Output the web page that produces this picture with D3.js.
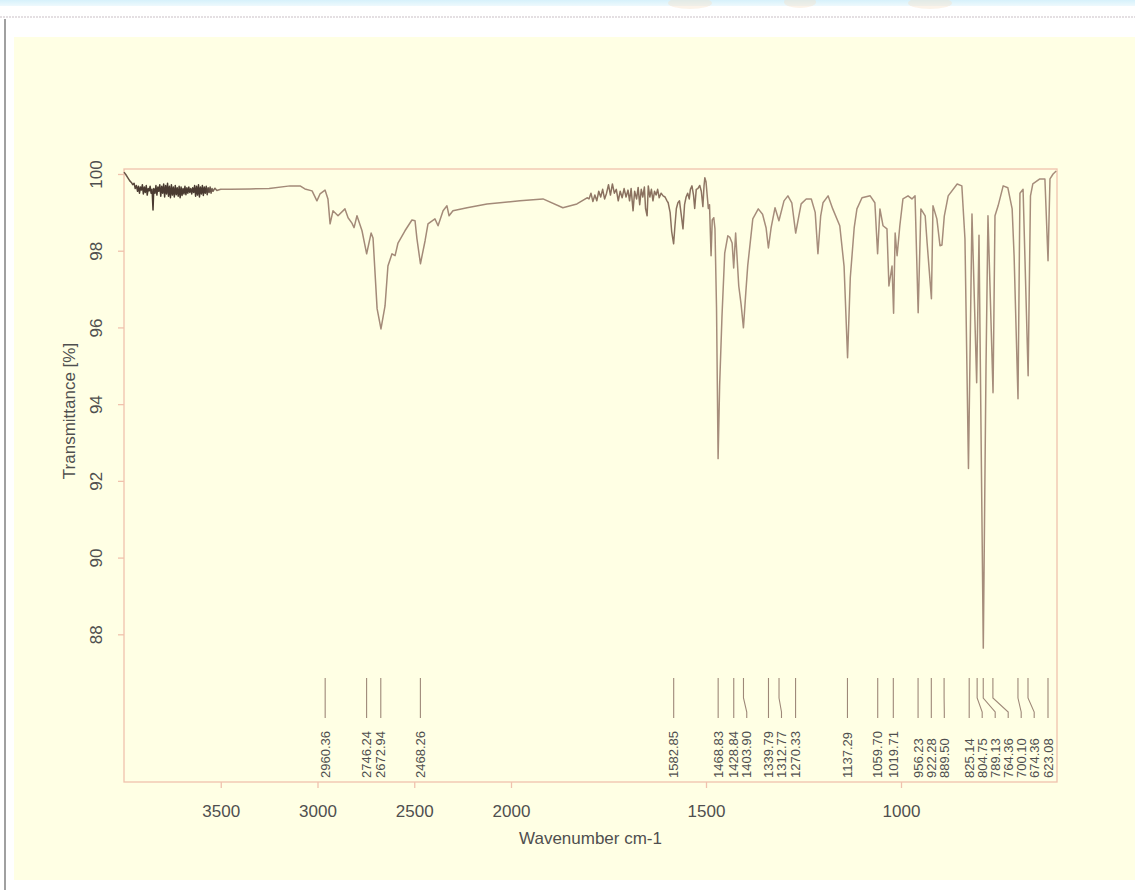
<!DOCTYPE html>
<html>
<head>
<meta charset="utf-8">
<script src="https://cdn.jsdelivr.net/npm/d3@7/dist/d3.min.js"></script>
<style>
  html, body { margin: 0; padding: 0; background: #ffffff; }
  svg { display: block; font-family: "Liberation Sans", Arial, sans-serif; }
</style>
</head>
<body>
<svg id="chart" width="1135" height="895"></svg>
<script>
// ---------------- DATA ----------------
const wavenumbers = [
  4000, 3990, 3980, 3970, 3962, 3955, 3948, 3942, 3936, 3930, 3925, 3920, 3915, 3910, 3905, 3900,
  3895, 3890, 3885, 3880, 3875, 3870, 3865, 3860, 3855, 3850, 3846, 3840, 3835, 3830, 3825, 3820,
  3815, 3810, 3805, 3800, 3795, 3790, 3785, 3780, 3775, 3770, 3765, 3760, 3755, 3750, 3745, 3740,
  3735, 3730, 3725, 3720, 3715, 3710, 3705, 3700, 3695, 3690, 3685, 3680, 3675, 3670, 3665, 3660,
  3655, 3650, 3645, 3640, 3635, 3630, 3625, 3620, 3615, 3610, 3605, 3600, 3595, 3590, 3585, 3580,
  3575, 3570, 3565, 3560, 3555, 3550, 3545, 3540, 3530, 3520, 3500, 3450, 3350, 3250,
  3142, 3090, 3065, 3028, 3003, 2987, 2961, 2946, 2935, 2920, 2894, 2858, 2842, 2822, 2811, 2796,
  2770, 2746, 2723, 2713, 2692, 2672, 2651, 2636, 2615, 2599, 2584, 2548, 2512, 2496, 2486, 2468,
  2444, 2429, 2393, 2377, 2351, 2331, 2320, 2300, 2227, 2124, 2057, 1977, 1918, 1867, 1831, 1805,
  1800, 1795, 1790, 1785, 1780, 1775, 1770, 1765, 1760, 1755, 1750, 1745, 1740, 1735, 1730, 1725,
  1720, 1715, 1710, 1705, 1700, 1696, 1692, 1687, 1683, 1678, 1674, 1670, 1666, 1662, 1658, 1655,
  1651, 1648, 1644, 1640, 1636, 1632, 1628, 1624, 1620, 1615, 1610, 1605, 1600, 1597, 1592, 1588,
  1583, 1580, 1576, 1572, 1568, 1563, 1559, 1555, 1551, 1547, 1543, 1540, 1536, 1532, 1529, 1525,
  1521, 1516, 1512, 1508, 1505, 1503, 1500, 1497, 1494, 1491, 1487, 1484, 1480, 1477, 1473, 1469,
  1465, 1459, 1452, 1444, 1439, 1433, 1429, 1424, 1416, 1410, 1404, 1398, 1393, 1380, 1366, 1355,
  1346, 1340, 1333, 1323, 1313, 1300, 1290, 1280, 1270, 1262, 1256, 1243, 1230, 1220, 1213, 1206,
  1200, 1187, 1175, 1157, 1146, 1137, 1130, 1120, 1113, 1100, 1079, 1067, 1060, 1054, 1046, 1036,
  1031, 1023, 1019, 1015, 1010, 1003, 995, 982, 972, 964, 956, 949, 938, 933, 922, 918,
  908, 900, 895, 889, 879, 856, 844, 836, 827, 818, 806, 800, 789, 782, 777, 764,
  759, 751, 738, 726, 715, 710, 700, 695, 687, 674, 668, 662, 644, 631, 623, 618,
  610, 602
];
const transmittance = [
  100.05, 99.98, 99.90, 99.82, 99.78, 99.72, 99.76, 99.62, 99.70, 99.55, 99.68, 99.50, 99.66, 99.58, 99.72, 99.48,
  99.66, 99.52, 99.70, 99.45, 99.62, 99.56, 99.68, 99.50, 99.60, 99.06, 99.62, 99.50, 99.70, 99.45, 99.66, 99.55,
  99.72, 99.42, 99.68, 99.50, 99.74, 99.40, 99.70, 99.48, 99.76, 99.42, 99.68, 99.38, 99.72, 99.45, 99.66, 99.40,
  99.70, 99.46, 99.64, 99.42, 99.68, 99.38, 99.66, 99.44, 99.62, 99.48, 99.68, 99.46, 99.64, 99.50, 99.66, 99.52,
  99.62, 99.48, 99.64, 99.52, 99.70, 99.42, 99.68, 99.45, 99.72, 99.40, 99.66, 99.48, 99.70, 99.44, 99.66, 99.50,
  99.68, 99.46, 99.64, 99.52, 99.66, 99.50, 99.62, 99.55, 99.63, 99.57, 99.60, 99.60, 99.61, 99.62,
  99.69, 99.69, 99.61, 99.56, 99.30, 99.48, 99.58, 99.35, 98.70, 99.04, 98.91, 99.09, 98.86, 98.72, 98.60, 98.91,
  98.52, 97.92, 98.46, 98.33, 96.49, 95.96, 96.56, 97.60, 97.92, 97.87, 98.20, 98.52, 98.80, 98.78, 98.31, 97.66,
  98.26, 98.70, 98.83, 98.65, 99.04, 99.17, 98.91, 99.04, 99.12, 99.22, 99.25, 99.30, 99.35, 99.12, 99.22, 99.38,
  99.35, 99.50, 99.28, 99.45, 99.30, 99.55, 99.40, 99.60, 99.35, 99.50, 99.72, 99.45, 99.74, 99.50, 99.60, 99.30,
  99.55, 99.38, 99.62, 99.40, 99.58, 99.30, 99.62, 99.04, 99.55, 99.35, 99.65, 99.20, 99.60, 99.40, 99.66, 99.10,
  98.91, 99.69, 99.40, 99.60, 99.30, 99.55, 99.45, 99.60, 99.38, 99.50, 99.43, 99.40, 99.30, 99.25, 99.00, 98.50,
  98.18, 98.60, 99.10, 99.25, 99.30, 98.90, 98.57, 99.20, 99.40, 99.50, 99.35, 99.60, 99.69, 99.45, 99.10, 99.60,
  99.62, 99.70, 99.55, 99.15, 99.70, 99.90, 99.80, 99.45, 99.10, 99.20, 97.87, 98.80, 98.86, 98.57, 96.50, 92.58,
  94.50, 96.30, 97.94, 98.39, 98.35, 98.20, 97.55, 98.46, 97.08, 96.60, 95.99, 96.90, 97.61, 98.83, 99.09, 98.95,
  98.60, 98.07, 98.60, 99.12, 98.78, 99.30, 99.43, 99.25, 98.46, 98.90, 99.22, 99.35, 99.35, 99.00, 97.92, 98.90,
  99.25, 99.43, 99.09, 98.65, 97.60, 95.21, 97.30, 98.60, 99.09, 99.38, 99.43, 99.25, 97.92, 99.09, 98.65, 98.57,
  97.08, 97.60, 96.37, 98.46, 97.87, 98.65, 99.35, 99.43, 99.35, 99.43, 96.38, 99.09, 98.91, 98.20, 96.75, 99.17,
  98.83, 98.13, 98.15, 98.90, 99.43, 99.74, 99.69, 98.31, 92.32, 98.96, 94.56, 98.40, 87.64, 95.00, 98.91, 94.30,
  98.91, 99.17, 99.69, 99.64, 99.09, 97.87, 94.14, 99.50, 99.60, 94.74, 99.43, 99.74, 99.87, 99.87, 97.74, 99.87,
  100.00, 100.08
];
const peakLabels = [
  2960.36, 2746.24, 2672.94, 2468.26, 1582.85, 1468.83, 1428.84, 1403.90, 1339.79, 1312.77,
  1270.33, 1137.29, 1059.70, 1019.71, 956.23, 922.28, 889.50, 825.14, 804.75, 789.13,
  764.36, 700.10, 674.36, 623.08
];
const xTicks = [3500, 3000, 2500, 2000, 1500, 1000];
const yTicks = [88, 90, 92, 94, 96, 98, 100];
const xTitle = "Wavenumber cm-1";
const yTitle = "Transmittance [%]";

// ---------------- LAYOUT ----------------
const svg = d3.select("#chart");
const W = 1135, H = 895;
const plot = { left: 124, top: 169, right: 1057, bottom: 782 };
const axisColor = "#f0c2ad";
const textColor = "#4f4f4f";

// page decoration
svg.append("rect").attr("x", 0).attr("y", 0).attr("width", W).attr("height", H).attr("fill", "#ffffff");
const defs = svg.append("defs");
const grad = defs.append("linearGradient").attr("id", "topg").attr("x1", 0).attr("x2", 0).attr("y1", 0).attr("y2", 1);
grad.append("stop").attr("offset", "0%").attr("stop-color", "#d6f1fb");
grad.append("stop").attr("offset", "100%").attr("stop-color", "#eef9fd");
svg.append("rect").attr("x", 0).attr("y", 0).attr("width", W).attr("height", 6).attr("fill", "url(#topg)");
[[690, 3, 22], [800, 2, 16], [930, 3, 22]].forEach(([cx, cy, r]) => {
  svg.append("ellipse").attr("cx", cx).attr("cy", cy).attr("rx", r).attr("ry", 6)
    .attr("fill", "#f6dcc0").attr("opacity", 0.35);
});
svg.append("line").attr("x1", 0).attr("x2", W).attr("y1", 17).attr("y2", 17)
  .attr("stroke", "#e4dfe2").attr("stroke-width", 2).attr("stroke-dasharray", "2,1");
svg.append("line").attr("x1", 5).attr("x2", 5).attr("y1", 19).attr("y2", 890)
  .attr("stroke", "#a0a0a0").attr("stroke-width", 2);
svg.append("rect").attr("x", 14).attr("y", 37).attr("width", W - 14).attr("height", 843)
  .attr("fill", "#ffffe4");

// scales (split axis: region above 2000 cm-1 compressed)
const x = d3.scaleLinear().domain([4000, 2000, 600]).range([plot.left, 511, plot.right]);
const y = d3.scaleLinear().domain([84.15, 100.13]).range([plot.bottom, plot.top]);

// stroke colour: darker where the trace is dense and noisy
const lg = defs.append("linearGradient").attr("id", "lineg").attr("gradientUnits", "userSpaceOnUse")
  .attr("x1", plot.left).attr("x2", plot.right).attr("y1", 0).attr("y2", 0);
const span = plot.right - plot.left;
[[124, "#6e5a4c"], [140, "#4a3b31"], [205, "#4a3b31"], [222, "#a38a78"],
 [575, "#a38a78"], [600, "#8a715f"], [700, "#8a715f"], [716, "#a68d7b"], [1057, "#a68d7b"]]
  .forEach(([px, c]) => lg.append("stop").attr("offset", ((px - plot.left) / span * 100) + "%").attr("stop-color", c));

// frame
svg.append("rect").attr("x", plot.left).attr("y", plot.top)
  .attr("width", plot.right - plot.left).attr("height", plot.bottom - plot.top)
  .attr("fill", "none").attr("stroke", axisColor).attr("stroke-width", 1.3);

// axes
const xAxis = svg.append("g").attr("transform", `translate(0,${plot.bottom})`)
  .call(d3.axisBottom(x).tickValues(xTicks).tickFormat(d3.format("d")).tickSize(6).tickPadding(10));
const yAxis = svg.append("g").attr("transform", `translate(${plot.left},0)`)
  .call(d3.axisLeft(y).tickValues(yTicks).tickFormat(d3.format("d")).tickSize(6));
[xAxis, yAxis].forEach(g => {
  g.select(".domain").remove();
  g.selectAll(".tick line").attr("stroke", axisColor).attr("stroke-width", 1.3);
  g.selectAll(".tick text").attr("fill", textColor).attr("font-size", 17)
    .attr("font-family", "Liberation Sans, Arial, sans-serif");
});
xAxis.selectAll(".tick text").attr("dy", null).attr("y", 35);
yAxis.selectAll(".tick text")
  .attr("x", null).attr("dy", null)
  .attr("text-anchor", "middle")
  .attr("transform", "translate(-22,0) rotate(-90)");

// titles
svg.append("text").attr("x", (plot.left + plot.right) / 2).attr("y", 844)
  .attr("text-anchor", "middle").attr("font-size", 17).attr("fill", textColor).text(xTitle);
svg.append("text").attr("transform", "translate(75,411) rotate(-90)")
  .attr("text-anchor", "middle").attr("font-size", 17).attr("fill", textColor).text(yTitle);

// spectrum
const pts = wavenumbers.map((w, i) => [w, transmittance[i]]);
svg.append("path").datum(pts)
  .attr("fill", "none").attr("stroke", "url(#lineg)").attr("stroke-width", 1.5)
  .attr("stroke-linejoin", "round")
  .attr("d", d3.line().x(d => x(d[0])).y(d => y(d[1])));

// peak labels with simple collision avoidance
const gap = 13;
const sorted = peakLabels.map(v => ({ v, px: x(v) })).sort((a, b) => a.px - b.px);
let prev = -Infinity;
sorted.forEach(p => { p.lx = Math.max(p.px, prev + gap); prev = p.lx; });
const yTop = 678, yBend1 = 698, yBend2 = 712, yLineEnd = 718, yText = 778;
const lab = svg.append("g");
lab.selectAll("path").data(sorted).join("path")
  .attr("fill", "none").attr("stroke", "#9e8878").attr("stroke-width", 1.1)
  .attr("d", d => `M${d.px},${yTop}L${d.px},${yBend1}L${d.lx},${yBend2}L${d.lx},${yLineEnd}`);
lab.selectAll("text").data(sorted).join("text")
  .attr("transform", d => `translate(${d.lx},${yText}) rotate(-90)`)
  .attr("dy", "0.35em").attr("text-anchor", "start")
  .attr("font-size", 13).attr("fill", textColor)
  .text(d => d3.format(".2f")(d.v));
</script>
</body>
</html>
